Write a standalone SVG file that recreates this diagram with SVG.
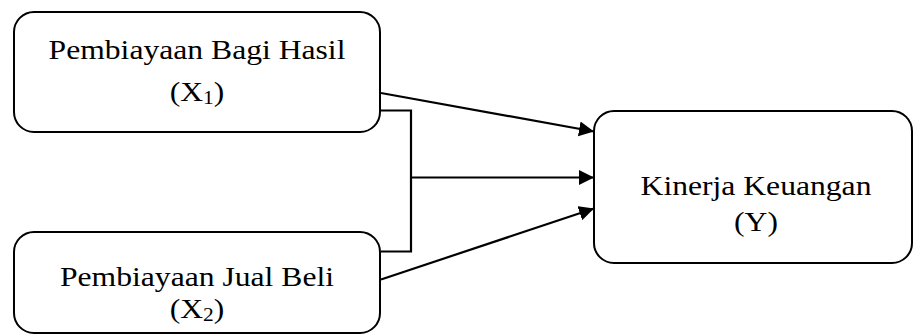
<svg xmlns="http://www.w3.org/2000/svg" width="913" height="335" viewBox="0 0 913 335">
  <style>
    .box { fill: #ffffff; stroke: #000000; stroke-width: 2; }
    .lbl { font-family: 'Liberation Serif', serif; font-size: 28px; fill: #000000; text-anchor: middle; }
    .sub { font-size: 19px; }
    .link { fill: none; stroke: #000000; stroke-width: 2.2; }
  </style>
  <defs>
    <marker id="arrow" markerUnits="userSpaceOnUse" markerWidth="16" markerHeight="16" viewBox="0 0 16 16" refX="15" refY="8" orient="auto">
      <path d="M0,0.5 L15,8 L0,15.5 Z" fill="#000000"/>
    </marker>
  </defs>

  <rect width="913" height="335" fill="#ffffff"/>

  <g id="node-x1">
    <rect class="box" x="14" y="12" width="366" height="120" rx="20" ry="20"/>
    <g transform="translate(197,0) scale(1.13,1)">
      <text class="lbl" x="0" y="59">Pembiayaan Bagi Hasil</text>
      <text class="lbl" x="0" y="101">(X<tspan class="sub" dy="3">1</tspan><tspan dy="-3">)</tspan></text>
    </g>
  </g>

  <g id="node-x2">
    <rect class="box" x="14" y="232" width="366" height="101" rx="20" ry="20"/>
    <g transform="translate(197,0) scale(1.13,1)">
      <text class="lbl" x="0" y="286">Pembiayaan Jual Beli</text>
      <text class="lbl" x="0" y="318">(X<tspan class="sub" dy="3">2</tspan><tspan dy="-3">)</tspan></text>
    </g>
  </g>

  <g id="node-y">
    <rect class="box" x="594" y="111" width="318" height="152" rx="20" ry="20"/>
    <g transform="translate(756,0) scale(1.13,1)">
      <text class="lbl" x="0" y="195">Kinerja Keuangan</text>
      <text class="lbl" x="0" y="231">(Y)</text>
    </g>
  </g>

  <g id="connectors">
    <line class="link" x1="381" y1="93" x2="594" y2="131.5" marker-end="url(#arrow)"/>
    <polyline class="link" points="381,110.5 411,110.5 411,251.5 381,251.5"/>
    <line class="link" x1="411" y1="177.5" x2="594" y2="177.5" marker-end="url(#arrow)"/>
    <line class="link" x1="381" y1="279.5" x2="594" y2="208.5" marker-end="url(#arrow)"/>
  </g>
</svg>
